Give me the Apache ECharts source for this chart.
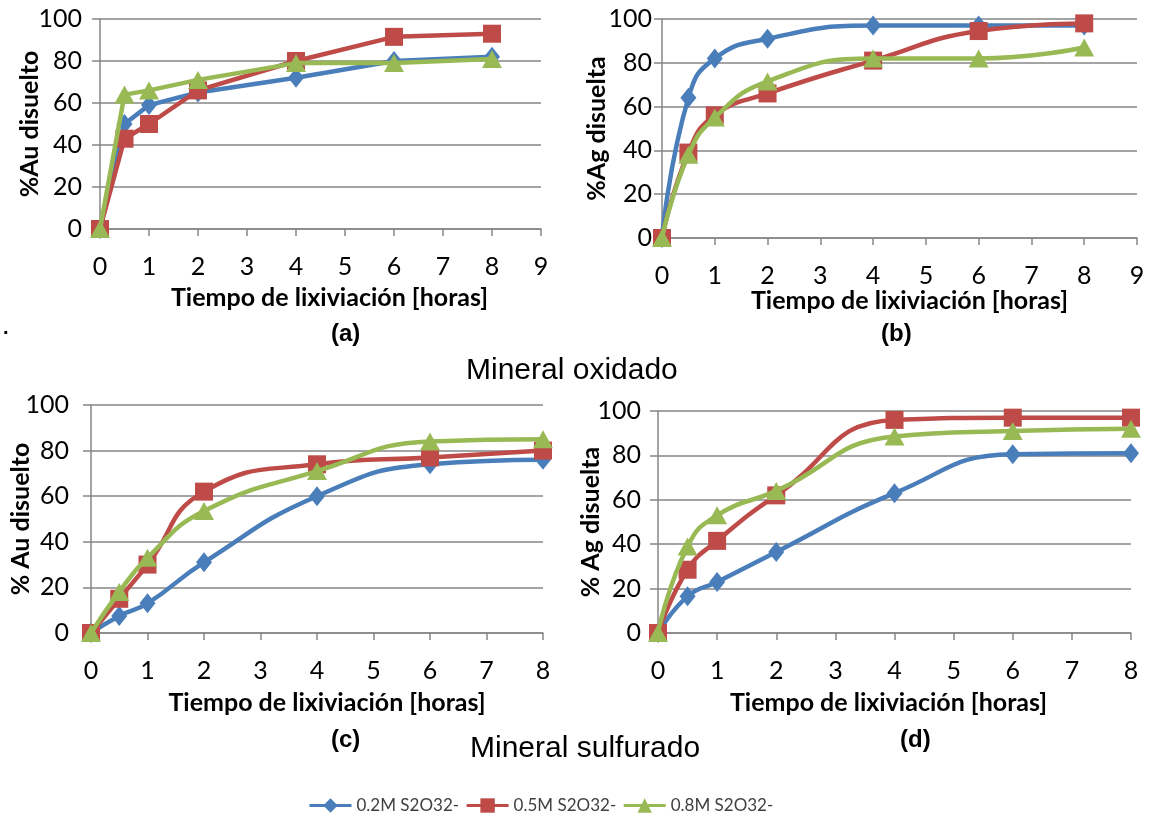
<!DOCTYPE html>
<html><head><meta charset="utf-8">
<script src="https://cdn.jsdelivr.net/npm/echarts@6/dist/echarts.min.js"></script>
<style>html,body{margin:0;padding:0;background:#fff}#c{width:1154px;height:817px}</style>
</head><body><div id="c"></div>
<script>
// ---------- data ----------
const hours = [0, 0.5, 1, 2, 4, 6, 8];
const seriesNames = ['0.2M S2O32-', '0.5M S2O32-', '0.8M S2O32-'];
const panelLetters = ['(a)', '(b)', '(c)', '(d)'];
const groupTitles = ['Mineral oxidado', 'Mineral sulfurado'];
const yTitles = ['%Au disuelto', '%Ag disuelta', '% Au disuelto', '% Ag disuelta'];
const xTitle = 'Tiempo de lixiviación [horas]';

// (a) Au, oxidised ore
const auOxi02 = [0, 50, 59, 65, 72, 80, 82];
const auOxi05 = [0, 43, 50, 66, 80, 91.5, 93];
const auOxi08 = [0, 64, 66, 71, 79, 79, 81];
// (b) Ag, oxidised ore
const agOxi02 = [0, 64, 82, 91, 97, 97, 97];
const agOxi05 = [0, 39, 56, 66, 81, 94.5, 98];
const agOxi08 = [0, 38, 55, 71.5, 82, 82, 87];
// (c) Au, sulphide ore
const auSul02 = [0, 7.5, 13, 31, 60, 74, 76];
const auSul05 = [0, 15, 30, 62, 74, 77, 80];
const auSul08 = [0, 18, 33, 53.5, 71, 84, 85];
// (d) Ag, sulphide ore
const agSul02 = [0, 16.5, 23, 36.5, 63, 80.5, 81];
const agSul05 = [0, 28.5, 41.5, 62, 96, 97, 97];
const agSul08 = [0, 39, 53, 64, 88.5, 91, 92];

// ---------- layout / style ----------
const colors = ['#4A7EBB', '#BE4B48', '#98B954'];
const symbols = ['diamond', 'rect', 'triangle'];
const symbolSizes = [[16, 20], [18, 18], [20, 18]];
const gridColor = '#868686';
const numFont = 'Lato, "Open Sans", sans-serif';

const panels = [
  {grid: {left: 100, top: 19, width: 441, height: 210}, xMax: 9, smooth: false,
   data: [auOxi02, auOxi05, auOxi08], yTitle: yTitles[0], yLabelMargin: 18, yNameGap: 58, xNameGap: 56, xNameShift: 18},
  {grid: {left: 662, top: 19, width: 475, height: 219}, xMax: 9, smooth: 0.5,
   data: [agOxi02, agOxi05, agOxi08], yTitle: yTitles[1], yLabelMargin: 10, yNameGap: 53, xNameGap: 50, xNameShift: 20},
  {grid: {left: 91, top: 405, width: 452, height: 228}, xMax: 8, smooth: 0.5,
   data: [auSul02, auSul05, auSul08], yTitle: yTitles[2], yLabelMargin: 22, yNameGap: 58, xNameGap: 57, xNameShift: 20},
  {grid: {left: 658, top: 411, width: 473, height: 222}, xMax: 8, smooth: 0.5,
   data: [agSul02, agSul05, agSul08], yTitle: yTitles[3], yLabelMargin: 17, yNameGap: 55, xNameGap: 57, xNameShift: -12}
];

const grids = [], xAxes = [], yAxes = [], series = [];
panels.forEach((p, gi) => {
  grids.push(Object.assign({containLabel: false}, p.grid));
  xAxes.push({
    type: 'value', gridIndex: gi, min: 0, max: p.xMax, interval: 1,
    axisLine: {show: true, onZero: false, lineStyle: {color: gridColor, width: 1.5}},
    axisTick: {show: true, inside: false, length: 7, lineStyle: {color: gridColor, width: 1.5}},
    splitLine: {show: false},
    axisLabel: {color: '#000', fontFamily: numFont, fontSize: 25, margin: 25},
    name: xTitle, nameLocation: 'middle', nameGap: p.xNameGap, nameMoveOverlap: false,
    nameTextStyle: {color: '#000', fontFamily: numFont, fontWeight: 'bold', fontSize: 25,
      padding: p.xNameShift >= 0 ? [0, 0, 0, p.xNameShift] : [0, -p.xNameShift, 0, 0]}
  });
  yAxes.push({
    type: 'value', gridIndex: gi, min: 0, max: 100, interval: 20,
    axisLine: {show: true, lineStyle: {color: gridColor, width: 1.5}},
    axisTick: {show: true, inside: false, length: 8, lineStyle: {color: gridColor, width: 1.5}},
    splitLine: {show: true, lineStyle: {color: gridColor, width: 1.5}},
    axisLabel: {color: '#000', fontFamily: numFont, fontSize: 25, margin: p.yLabelMargin},
    name: p.yTitle, nameLocation: 'middle', nameGap: p.yNameGap, nameMoveOverlap: false,
    nameTextStyle: {color: '#000', fontFamily: numFont, fontWeight: 'bold', fontSize: 25}
  });
  p.data.forEach((vals, si) => {
    series.push({
      name: seriesNames[si], type: 'line', xAxisIndex: gi, yAxisIndex: gi,
      data: hours.map((h, i) => [h, vals[i]]),
      smooth: p.smooth,
      symbol: symbols[si], symbolSize: symbolSizes[si], showAllSymbol: true,
      lineStyle: {color: colors[si], width: 4.5},
      itemStyle: {color: colors[si]},
      z: 2 + si, animation: false
    });
  });
});

const chart = echarts.init(document.getElementById('c'), null, {renderer: 'canvas'});
chart.setOption({
  backgroundColor: '#fff',
  animation: false,
  grid: grids, xAxis: xAxes, yAxis: yAxes, series: series,
  legend: {
    data: seriesNames, left: 303, top: 792, itemWidth: 42, itemHeight: 18, itemGap: 6,
    lineStyle: {width: 3},
    textStyle: {color: '#404040', fontFamily: numFont, fontSize: 17}
  },
  graphic: [
    {type: 'text', left: 331, top: 322, style: {text: panelLetters[0], font: 'bold 24px "Liberation Sans", Arial', fill: '#000'}},
    {type: 'text', left: 881, top: 322, style: {text: panelLetters[1], font: 'bold 24px "Liberation Sans", Arial', fill: '#000'}},
    {type: 'text', left: 331, top: 728, style: {text: panelLetters[2], font: 'bold 24px "Liberation Sans", Arial', fill: '#000'}},
    {type: 'text', left: 900, top: 728, style: {text: panelLetters[3], font: 'bold 24px "Liberation Sans", Arial', fill: '#000'}},
    {type: 'text', left: 466, top: 356, style: {text: groupTitles[0], font: '30px "Liberation Sans", Arial', fill: '#000'}},
    {type: 'text', left: 470, top: 734, style: {text: groupTitles[1], font: '30px "Liberation Sans", Arial', fill: '#000'}},
    {type: 'text', left: 3, top: 318, style: {text: '.', font: 'bold 20px "Liberation Sans", Arial', fill: '#000'}}
  ]
});
</script></body></html>
